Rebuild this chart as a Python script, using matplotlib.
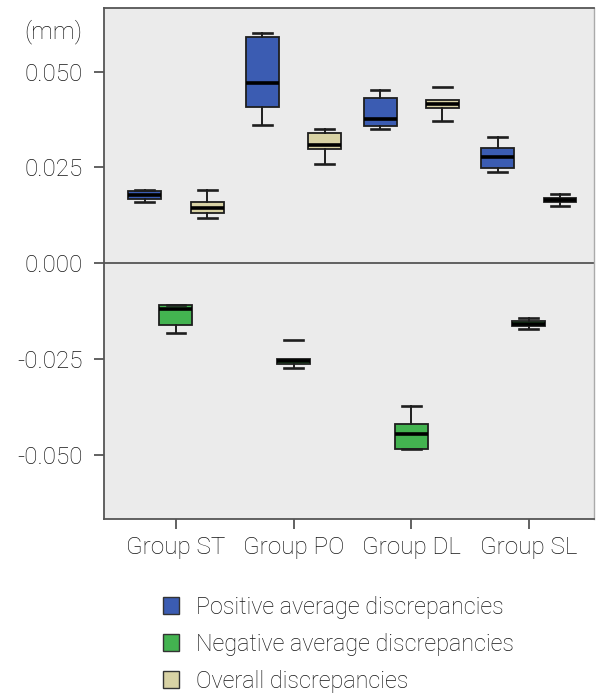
import matplotlib
matplotlib.use("Agg")
import matplotlib.pyplot as plt
from matplotlib.patches import Patch

plt.rcParams['font.family'] = ['Roboto', 'DejaVu Sans']
plt.rcParams['font.weight'] = 'light'

groups = ["Group ST", "Group PO", "Group DL", "Group SL"]
series = ["Positive average discrepancies", "Negative average discrepancies",
          "Overall discrepancies"]

# five-number summaries per group: whisker low, q1, median, q3, whisker high
pos_lo = [0.0159, 0.0360, 0.0350, 0.0239]
pos_q1 = [0.0168, 0.0409, 0.0358, 0.0248]
pos_med = [0.0178, 0.0470, 0.0376, 0.0276]
pos_q3 = [0.0189, 0.0591, 0.0430, 0.0300]
pos_hi = [0.0190, 0.0600, 0.0451, 0.0330]

neg_lo = [-0.0181, -0.0272, -0.0483, -0.0172]
neg_q1 = [-0.0161, -0.0262, -0.0483, -0.0164]
neg_med = [-0.0120, -0.0255, -0.0445, -0.0157]
neg_q3 = [-0.0109, -0.0250, -0.0419, -0.0150]
neg_hi = [-0.0109, -0.0201, -0.0371, -0.0142]

all_lo = [0.0119, 0.0260, 0.0370, 0.0149]
all_q1 = [0.0130, 0.0298, 0.0405, 0.0159]
all_med = [0.0144, 0.0309, 0.0415, 0.0165]
all_q3 = [0.0161, 0.0339, 0.0426, 0.0171]
all_hi = [0.0190, 0.0351, 0.0461, 0.0180]

yticks = [-0.050, -0.025, 0.000, 0.025, 0.050]
colors = ["#3b5cb2", "#43b350", "#d8d2a4"]
offsets = [-0.265, 0.0, 0.265]
txt = "#151515"

fig = plt.figure(figsize=(6.01, 6.93), dpi=100)
ax = fig.add_axes([0.173, 0.251, 0.815, 0.7375])
ax.set_facecolor("#ebebeb")

data = [(pos_lo, pos_q1, pos_med, pos_q3, pos_hi),
        (neg_lo, neg_q1, neg_med, neg_q3, neg_hi),
        (all_lo, all_q1, all_med, all_q3, all_hi)]

for k, (lo, q1, med, q3, hi) in enumerate(data):
    stats = []
    for i in range(len(groups)):
        stats.append({"whislo": lo[i], "q1": q1[i], "med": med[i],
                      "q3": q3[i], "whishi": hi[i], "fliers": []})
    pos = [i + offsets[k] for i in range(len(groups))]
    bp = ax.bxp(stats, positions=pos, widths=0.28, patch_artist=True,
                showfliers=False, capwidths=0.16,
                boxprops=dict(facecolor=colors[k], edgecolor="#1e1e1e", linewidth=1.3),
                medianprops=dict(color="black", linewidth=2.6, solid_capstyle="butt"),
                whiskerprops=dict(color="#1e1e1e", linewidth=1.4),
                capprops=dict(color="#1e1e1e", linewidth=1.9))
    # upper whiskers that barely show next to their caps
    if k == 1:
        bp['whiskers'][3].set_alpha(0.0)
    if k == 2:
        bp['whiskers'][5].set_alpha(0.0)

ax.axhline(0, color="#555555", linewidth=1.3, zorder=0.5)

ax.set_xlim(-0.612, 3.552)
ax.set_ylim(-0.0667, 0.0666)
ax.set_xticks(range(len(groups)))
ax.set_xticklabels(groups)
ax.set_yticks(yticks)
ax.set_yticklabels(["%.3f" % v for v in yticks])
ax.tick_params(axis="both", direction="out", length=7, width=1.3, color="#555555",
               labelsize=17.5, labelcolor=txt)
ax.tick_params(axis="y", pad=8)
ax.tick_params(axis="x", pad=5)
for s in ["left", "bottom", "top"]:
    ax.spines[s].set_color("#555555")
    ax.spines[s].set_linewidth(1.3)
ax.spines["right"].set_color("#aaaaaa")
ax.spines["right"].set_linewidth(1.0)

fig.text(82 / 601, 1 - 32 / 693, "(mm)", ha="right", va="center",
         fontsize=17.5, color=txt)

handles = [Patch(facecolor=c, edgecolor="#333333", linewidth=1.0) for c in colors]
leg = fig.legend(handles, series, loc="upper left", bbox_to_anchor=(0.255, 0.154),
                 frameon=False, fontsize=16.8, handlelength=0.7, handleheight=0.7,
                 handletextpad=0.75, labelspacing=0.6, borderaxespad=0)
for t in leg.get_texts():
    t.set_color(txt)

fig.savefig("out.png", dpi=100)
